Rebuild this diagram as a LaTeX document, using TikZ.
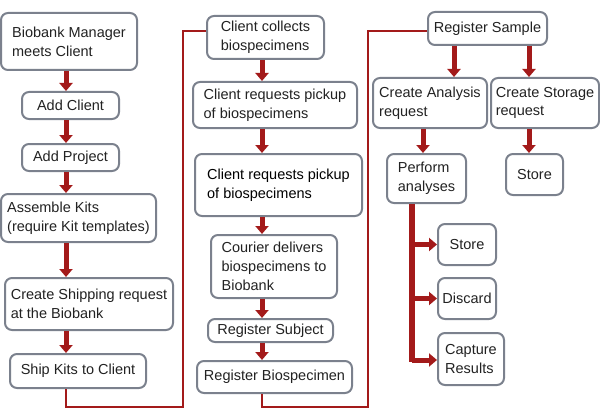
\documentclass[tikz,border=0pt]{standalone}
\usepackage{fontspec}
\setmainfont{Liberation Sans}
\usetikzlibrary{arrows.meta}
\definecolor{boxgray}{HTML}{7B818D}
\definecolor{darkred}{HTML}{A31A1A}
\definecolor{txt}{HTML}{222222}
\tikzset{
  box/.style={draw=boxgray, line width=2pt, rounded corners=7pt, fill=white,
    align=left, text=txt, inner sep=0pt, font=\fontsize{14.5}{18.7}\selectfont},
  flow/.style={draw=darkred, line width=5pt, -{Triangle[width=13pt,length=8pt]}},
  link/.style={draw=darkred, line width=1.8pt},
}
\newcommand{\bx}[6]{\node[box, minimum width=#4pt, minimum height=#5pt] (#1) at (#2,#3) {#6};}
\begin{document}
\begin{tikzpicture}[x=1pt,y=-1pt]
\useasboundingbox (0,0) rectangle (600,420);
% column 1
\bx{n1}{69}{41.5}{136}{57}{Biobank Manager\\meets Client}
\bx{n2}{70.5}{105.5}{97}{27}{Add Client}
\bx{n3}{70.5}{157.5}{97}{27}{Add Project}
\bx{n4}{78.5}{218}{155}{48}{Assemble Kits\\(require Kit templates)}
\bx{n5}{89}{304}{168}{52}{Create Shipping request\\at the Biobank}
\bx{n6}{78}{371}{136}{34}{Ship Kits to Client}
% column 2
\bx{m1}{265.5}{37.5}{117}{43}{Client collects\\biospecimens}
\bx{m2}{275}{105}{164}{46}{Client requests pickup\\of biospecimens}
\node[box, text=black, minimum width=167pt, minimum height=62pt] (m3) at (278.5,185) {Client requests pickup\\of biospecimens};
\bx{m4}{274}{266.5}{126}{63}{Courier delivers\\biospecimens to\\Biobank}
\bx{m5}{270.5}{330.5}{125}{23}{Register Subject}
\bx{m6}{274.5}{377}{155}{32}{Register Biospecimen}
% column 3
\bx{r1}{487.5}{28.5}{119}{33}{Register Sample}
\bx{r2}{430}{103}{114}{50}{Create Analysis\\request}
\bx{r3}{545}{103}{108}{50}{Create Storage\\request}
\bx{r4}{426.5}{178.5}{79}{49}{Perform\\analyses}
\bx{r5}{534.5}{174.5}{57}{41}{Store}
\bx{r6}{467}{244.5}{58}{41}{Store}
\bx{r7}{467}{298.5}{58}{41}{Discard}
\bx{r8}{471}{359}{66}{52}{Capture\\Results}
% guide coordinates
\coordinate (c1) at (66,0);
\coordinate (c2) at (262,0);
\coordinate (ra) at (454,0);
\coordinate (rb) at (529,0);
\coordinate (rc) at (423,0);
\coordinate (tr) at (412,0);
\coordinate (tend) at (412,362);
\coordinate (low1) at (66,407);
\coordinate (up1) at (183,31);
\coordinate (low2) at (262,407);
\coordinate (up2) at (368,31);
% column 1 flow
\draw[flow] (n1.south -| c1) -- (n2.north -| c1);
\draw[flow] (n2.south -| c1) -- (n3.north -| c1);
\draw[flow] (n3.south -| c1) -- (n4.north -| c1);
\draw[flow] (n4.south -| c1) -- (n5.north -| c1);
\draw[flow] (n5.south -| c1) -- (n6.north -| c1);
% column 2 flow
\draw[flow] (m1.south -| c2) -- (m2.north -| c2);
\draw[flow] (m2.south -| c2) -- (m3.north -| c2);
\draw[flow] (m3.south -| c2) -- (m4.north -| c2);
\draw[flow] (m4.south -| c2) -- (m5.north -| c2);
\draw[flow] (m5.south -| c2) -- (m6.north -| c2);
% column 3 flow
\draw[flow] (r1.south -| ra) -- (r2.north -| ra);
\draw[flow] (r1.south -| rb) -- (r3.north -| rb);
\draw[flow] (r2.south -| rc) -- (r4.north -| rc);
\draw[flow] (r3.south -| rb) -- (r5.north -| rb);
\draw[draw=darkred, line width=6pt] (r4.south -| tr) -- (tend);
\draw[flow] (r6.west -| tr) -- (r6.west);
\draw[flow] (r7.west -| tr) -- (r7.west);
\draw[flow] (r8.west -| tr) ++(0,1) -- ([yshift=-1pt]r8.west);
% links between columns
\draw[link] (n6.south -| c1) -- (low1) -| (up1) -- (m1.west |- up1);
\draw[link] (m6.south -| c2) -- (low2) -| (up2) -- (r1.west |- up2);
\end{tikzpicture}
\end{document}
